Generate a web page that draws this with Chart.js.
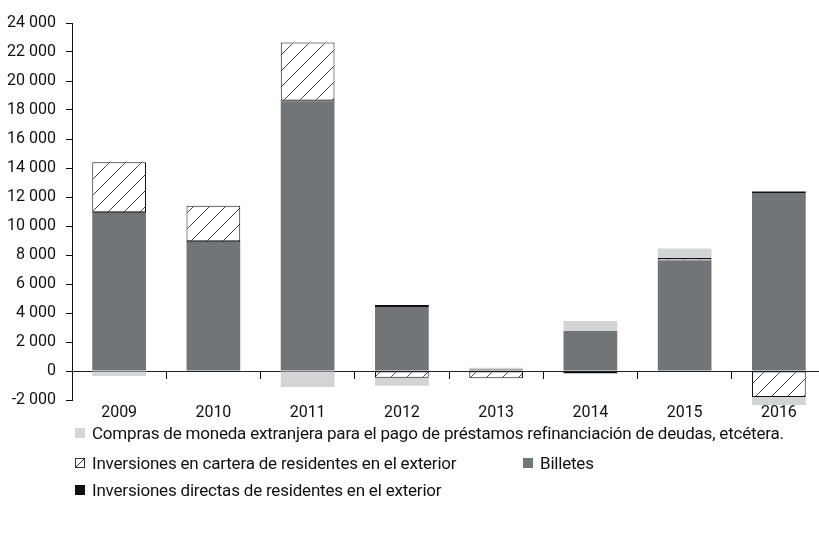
<!DOCTYPE html>
<html>
<head>
<meta charset="utf-8">
<script src="https://cdn.jsdelivr.net/npm/chart.js@4/dist/chart.umd.min.js"></script>
<style>
    html, body { margin: 0; padding: 0; background: #fff; overflow: hidden; }
    body { width: 819px; height: 538px; position: relative; font-family: Roboto, "Liberation Sans", sans-serif; }
    #wrap { position: absolute; left: 0; top: 0; width: 830px; height: 430px; }
    .legend-item { position: absolute; font-size: 17px; letter-spacing: -0.2px; color: #111; white-space: nowrap; line-height: 20px; }
    .legend-item .swatch { position: absolute; left: -17px; top: 5px; width: 10px; height: 10px; box-sizing: border-box; }
</style>
</head>
<body>
<div id="wrap"><canvas id="chart"></canvas></div>
<div id="legend"></div>
<script>
const years = ['2009', '2010', '2011', '2012', '2013', '2014', '2015', '2016'];
const billetes = [10900, 8900, 18600, 4420, 100, 2760, 7620, 12280];
const directas = [50, 50, 50, 130, 0, -160, 0, 100];
const cartera = [3450, 2450, 4000, -460, -500, 0, 180, -1800];
const compras = [-350, 0, -1100, -550, 120, 690, 640, -540];
const yTicks = { min: -2000, max: 24000, step: 2000 };

const labels = {
    compras: 'Compras de moneda extranjera para el pago de préstamos refinanciación de deudas, etcétera.',
    cartera: 'Inversiones en cartera de residentes en el exterior',
    billetes: 'Billetes',
    directas: 'Inversiones directas de residentes en el exterior',
};

const colors = {
    billetes: '#727578',
    directas: '#111111',
    compras: '#d3d4d4',
    hatchLine: '#444444',
};

const makeHatch = () => {
    const size = 16;
    const c = document.createElement('canvas');
    c.width = size;
    c.height = size;
    const ctx = c.getContext('2d');
    ctx.fillStyle = '#ffffff';
    ctx.fillRect(0, 0, size, size);
    ctx.strokeStyle = colors.hatchLine;
    ctx.lineWidth = 1;
    ctx.beginPath();
    ctx.moveTo(-2, size + 2);
    ctx.lineTo(size + 2, -2);
    ctx.stroke();
    return ctx.createPattern(c, 'repeat');
};

const formatThousands = (v) => String(v).replace(/\B(?=(\d{3})+(?!\d))/g, ' ');

const font = { family: 'Roboto, "Liberation Sans", sans-serif', size: 16 };

const chart = new Chart(document.getElementById('chart'), {
    type: 'bar',
    data: {
        labels: years,
        datasets: [
            { label: labels.billetes, data: billetes, backgroundColor: colors.billetes, borderWidth: 0 },
            { label: labels.directas, data: directas, backgroundColor: colors.directas, borderWidth: 0 },
            {
                label: labels.cartera,
                data: cartera,
                backgroundColor: makeHatch(),
                borderColor: '#111111',
                borderWidth: 1,
                borderSkipped: false,
            },
            { label: labels.compras, data: compras, backgroundColor: colors.compras, borderWidth: 0 },
        ],
    },
    options: {
        responsive: true,
        maintainAspectRatio: false,
        animation: false,
        layout: { padding: { top: 23, left: 0, right: 4, bottom: 0 } },
        datasets: { bar: { barPercentage: 0.57, categoryPercentage: 1, clip: false } },
        plugins: { legend: { display: false }, tooltip: { enabled: false } },
        scales: {
            x: {
                stacked: true,
                grid: { display: false, drawTicks: false },
                border: { display: false },
                ticks: { color: '#111', font, padding: 3 },
                afterFit: (scale) => { scale.height = 30; },
            },
            x2: {
                type: 'category',
                labels: years,
                position: { y: 0 },
                offset: true,
                grid: { drawOnChartArea: false, drawTicks: true, tickLength: 7, color: '#111' },
                border: { color: '#222', width: 1 },
                ticks: { display: false },
            },
            y: {
                stacked: true,
                min: yTicks.min,
                max: yTicks.max,
                ticks: {
                    stepSize: yTicks.step,
                    color: '#111',
                    font,
                    padding: 10,
                    callback: (v) => formatThousands(v),
                },
                grid: { drawOnChartArea: false, drawTicks: true, tickLength: 6, color: '#111' },
                border: { color: '#111', width: 1 },
                afterFit: (scale) => { scale.width = 72; },
            },
        },
    },
});

// legend, laid out like the original (three rows)
const legendRows = [
    { key: 'compras', x: 92, y: 423 },
    { key: 'cartera', x: 92, y: 453 },
    { key: 'billetes', x: 540, y: 453 },
    { key: 'directas', x: 92, y: 480 },
];

const legend = document.getElementById('legend');
legendRows.forEach((row) => {
    const item = document.createElement('div');
    item.className = 'legend-item';
    item.style.left = `${row.x}px`;
    item.style.top = `${row.y}px`;
    const sw = document.createElement('span');
    sw.className = 'swatch';
    if (row.key === 'cartera') {
        sw.style.border = '1px solid #333';
        sw.style.background = 'linear-gradient(135deg, transparent 45%, #333 45%, #333 55%, transparent 55%)';
        sw.style.backgroundColor = '#fff';
    } else {
        sw.style.background = colors[row.key];
    }
    item.appendChild(sw);
    item.appendChild(document.createTextNode(labels[row.key]));
    legend.appendChild(item);
});
</script>
</body>
</html>
